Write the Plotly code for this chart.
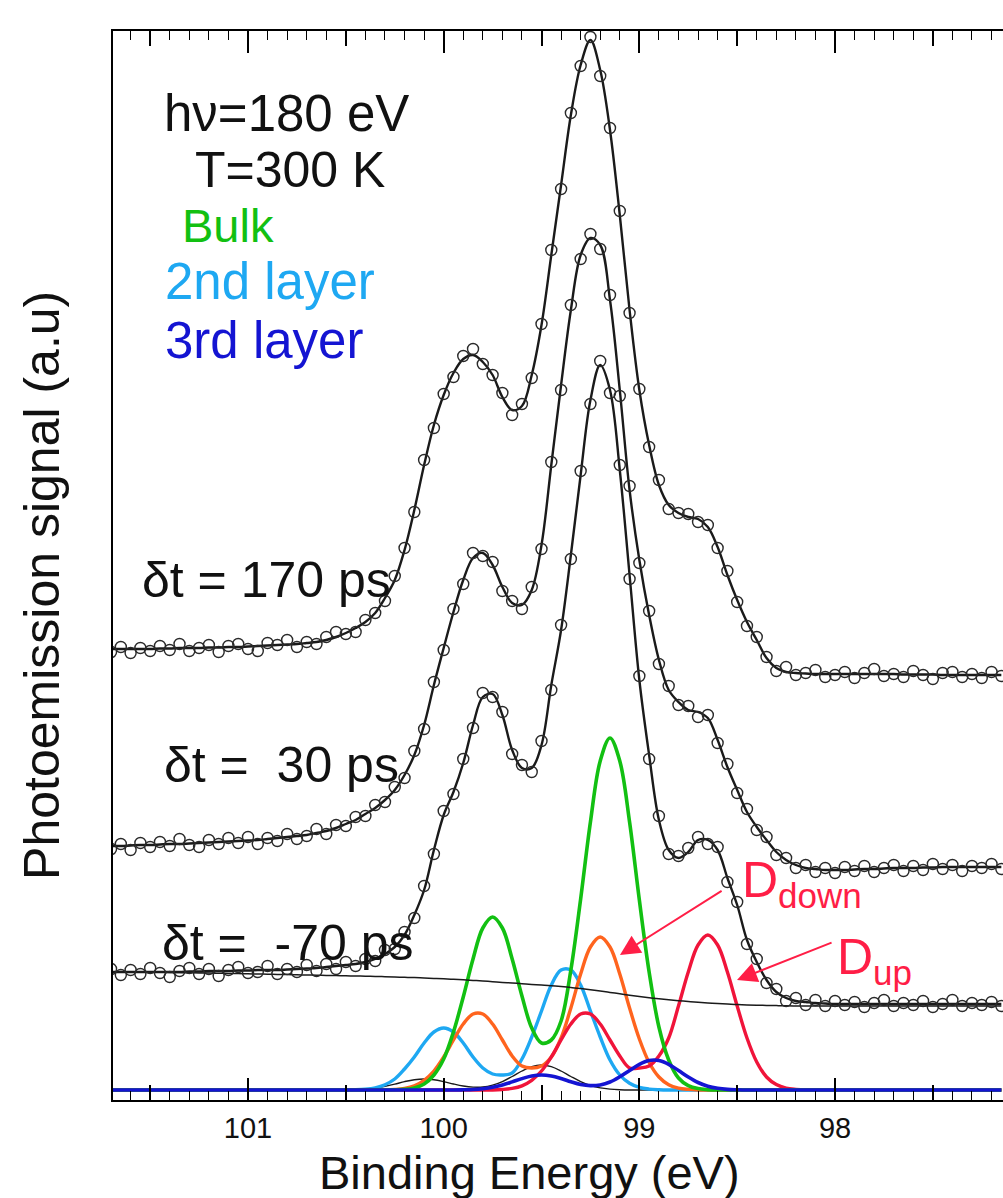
import plotly.graph_objects as go

# ---------------- data ----------------
energy = [101.70, 101.65, 101.60, 101.55, 101.50, 101.45, 101.40, 101.35, 101.30, 101.25,
          101.20, 101.15, 101.10, 101.05, 101.00, 100.95, 100.90, 100.85, 100.80, 100.75,
          100.70, 100.65, 100.60, 100.55, 100.50, 100.45, 100.40, 100.35, 100.30, 100.25,
          100.20, 100.15, 100.10, 100.05, 100.00, 99.95, 99.90, 99.85, 99.80, 99.75,
          99.70, 99.65, 99.60, 99.55, 99.50, 99.45, 99.40, 99.35, 99.30, 99.25,
          99.20, 99.15, 99.10, 99.05, 99.00, 98.95, 98.90, 98.85, 98.80, 98.75,
          98.70, 98.65, 98.60, 98.55, 98.50, 98.45, 98.40, 98.35, 98.30, 98.25,
          98.20, 98.15, 98.10, 98.05, 98.00, 97.95, 97.90, 97.85, 97.80, 97.75,
          97.70, 97.65, 97.60, 97.55, 97.50, 97.45, 97.40, 97.35, 97.30, 97.25,
          97.20, 97.15]

fit_170 = [441, 441, 441, 441, 441, 441.5, 441.5, 442, 442, 442,
           442.5, 442.5, 443, 443, 443.5, 444, 444.5, 445, 445.5, 446,
           447, 448, 450, 453, 457, 462, 468, 477, 492, 510,
           540, 580, 625, 665, 695, 717, 731, 735, 728, 715,
           693, 680, 684, 715, 765, 835, 905, 975, 1025, 1050,
           1020, 960, 875, 780, 700, 645, 605, 585, 577, 573,
           571, 563, 543, 515, 490, 468, 450, 432, 422, 418,
           417, 416.5, 416, 416, 416, 416, 416, 416, 416, 416,
           416, 415.5, 415.5, 415.5, 415.5, 415, 415, 415, 415, 415,
           415, 415]
data_170 = [438, 443, 437, 442, 439, 444, 440, 446, 439, 442,
            445, 438, 444, 446, 441, 439, 447, 445, 450, 443,
            448, 446, 453, 458, 456, 458, 470, 477, 489, 514,
            542, 578, 630, 662, 696, 713, 734, 741, 726, 715,
            697, 675, 686, 712, 766, 840, 901, 977, 1024, 1053,
            1014, 962, 879, 777, 701, 643, 610, 581, 577, 576,
            568, 565, 542, 519, 488, 464, 453, 433, 419, 423,
            415, 417, 420, 413, 415, 418, 412, 417, 421, 414,
            416, 413, 419, 415, 411, 417, 418, 413, 416, 412,
            418, 414]

fit_30 = [244, 244, 244.5, 245, 245, 245.5, 246, 246, 246.5, 247,
          247.5, 248, 248.5, 249, 249.5, 250, 251, 252, 253, 254,
          255, 257, 259, 262, 266, 270, 276, 282, 290, 300,
          315, 335, 365, 405, 442, 478, 510, 532, 537, 525,
          503, 487, 485, 500, 545, 625, 705, 780, 835, 852,
          845, 790, 700, 600, 530, 475, 430, 400, 388, 380,
          378, 372, 350, 323, 300, 278, 263, 250, 238, 230,
          225, 222, 221, 220, 220, 220, 220.5, 221, 221, 221.5,
          222, 222, 222, 222.5, 222.5, 223, 223, 223, 223, 223,
          223, 223]
data_30 = [241, 246, 240, 247, 243, 248, 244, 251, 245, 243,
           250, 246, 252, 247, 253, 246, 252, 249, 256, 251,
           254, 261, 256, 265, 264, 273, 274, 285, 288, 303,
           312, 339, 361, 408, 440, 481, 506, 537, 534, 528,
           499, 489, 481, 503, 541, 628, 700, 785, 831, 856,
           841, 795, 694, 604, 527, 479, 426, 404, 385, 384,
           373, 375, 347, 326, 297, 281, 260, 253, 235, 232,
           222, 225, 218, 222, 217, 223, 219, 224, 218, 222,
           225, 219, 224, 220, 226, 221, 225, 219, 224, 222,
           226, 221]

fit_m70 = [118, 118, 118, 118, 118, 118, 118, 118, 118.5, 118.5,
           119, 119, 119, 119.5, 119.5, 120, 120, 120, 120.5, 121,
           121.5, 122, 123, 124, 125, 126, 128, 131, 136, 143,
           155, 175, 200, 240, 275, 298, 327, 365, 393, 396,
           375, 340, 322, 322, 345, 405, 460, 535, 615, 690,
           725, 700, 620, 515, 410, 335, 270, 240, 232, 238,
           250, 250, 240, 212, 185, 150, 128, 110, 98, 92,
           89, 88, 87, 86.5, 86, 86, 86, 86, 86, 86,
           86, 86, 86, 86, 86, 86, 86, 86, 86, 86,
           86, 86]
data_m70 = [121, 115, 120, 116, 122, 117, 113, 119, 122, 116,
            121, 114, 120, 123, 117, 118, 124, 116, 121, 118,
            125, 119, 126, 121, 128, 124, 131, 129, 140, 141,
            158, 172, 204, 236, 279, 296, 331, 362, 397, 393,
            378, 336, 325, 318, 349, 400, 465, 531, 619, 686,
            729, 697, 625, 511, 414, 331, 274, 236, 234, 242,
            253, 246, 243, 208, 188, 146, 131, 107, 101, 89,
            92, 85, 90, 84, 89, 85, 88, 83, 87, 90,
            84, 87, 85, 89, 83, 86, 90, 84, 87, 85,
            88, 84]
background_m70 = [118, 118, 118, 118, 118, 117.8, 117.6, 117.4, 117.2, 117,
                  117, 116.8, 116.6, 116.4, 116.2, 116, 115.8, 115.6, 115.4, 115.2,
                  115, 114.8, 114.6, 114.4, 114.2, 114, 113.8, 113.6, 113.3, 113,
                  112.7, 112.4, 112, 111.6, 111.2, 110.7, 110.2, 109.6, 109, 108.3,
                  107.6, 107, 106.3, 105.6, 105, 104.2, 103.4, 102.5, 101.5, 100.3,
                  99, 97.6, 96.2, 94.8, 93.5, 92.3, 91.2, 90.2, 89.3, 88.5,
                  87.7, 87, 86.4, 85.9, 85.5, 85.1, 84.8, 84.6, 84.4, 84.2,
                  84.1, 84, 84, 84, 84, 84, 84, 84, 84, 84,
                  84, 84, 84, 84, 84, 84, 84, 84, 84, 84,
                  84, 84]

comp_bulk = [0, 0, 0, 0, 0, 0, 0, 0, 0, 0,
             0, 0, 0, 0, 0, 0, 0, 0, 0, 0,
             0, 0, 0, 0, 0, 0, 0, 0, 0, 0.2,
             0.7, 2.1, 6, 15, 31, 58, 93, 131, 162, 173,
             162, 131, 94, 62, 47, 50, 69, 120, 191, 268,
             329, 352, 329, 268, 190, 118, 63, 30, 12, 4.4,
             1.4, 0.4, 0, 0, 0, 0, 0, 0, 0, 0,
             0, 0, 0, 0, 0, 0, 0, 0, 0, 0,
             0, 0, 0, 0, 0, 0, 0, 0, 0, 0,
             0, 0]
comp_2nd = [0, 0, 0, 0, 0, 0, 0, 0, 0, 0,
            0, 0, 0, 0, 0, 0, 0, 0, 0, 0,
            0, 0, 0, 0, 0, 0.2, 0.8, 2.2, 5.3, 11,
            21, 33, 47, 58, 62, 58, 47, 33, 22, 16,
            15, 17, 31, 53, 79, 105, 120, 120, 105, 79,
            53, 30, 15, 6.7, 2.6, 0.9, 0.25, 0, 0, 0,
            0, 0, 0, 0, 0, 0, 0, 0, 0, 0,
            0, 0, 0, 0, 0, 0, 0, 0, 0, 0,
            0, 0, 0, 0, 0, 0, 0, 0, 0, 0,
            0, 0]
comp_ddown = [0, 0, 0, 0, 0, 0, 0, 0, 0, 0,
              0, 0, 0, 0, 0, 0, 0, 0, 0, 0,
              0, 0, 0, 0, 0, 0, 0, 0, 0, 0.5,
              1.6, 4.2, 9.7, 19, 33, 50, 66, 76, 76, 66,
              50, 34, 24, 22, 24, 33, 52, 82, 116, 143,
              153, 143, 116, 82, 51, 27.5, 13, 5.3, 1.9, 0.6,
              0, 0, 0, 0, 0, 0, 0, 0, 0, 0,
              0, 0, 0, 0, 0, 0, 0, 0, 0, 0,
              0, 0, 0, 0, 0, 0, 0, 0, 0, 0,
              0, 0]
comp_dup = [0, 0, 0, 0, 0, 0, 0, 0, 0, 0,
            0, 0, 0, 0, 0, 0, 0, 0, 0, 0,
            0, 0, 0, 0, 0, 0, 0, 0, 0, 0,
            0, 0, 0, 0, 0, 0, 0, 0, 0, 0,
            0.5, 1.6, 4.2, 9.7, 19, 33, 50, 66, 76, 76,
            66, 50, 34, 22, 22, 24, 34, 52, 84, 118,
            145, 155, 145, 118, 84, 52, 28, 13, 5.4, 1.9,
            0.6, 0, 0, 0, 0, 0, 0, 0, 0, 0,
            0, 0, 0, 0, 0, 0, 0, 0, 0, 0,
            0, 0]
comp_3rd = [0, 0, 0, 0, 0, 0, 0, 0, 0, 0,
            0, 0, 0, 0, 0, 0, 0, 0, 0, 0,
            0, 0, 0, 0, 0, 0, 0, 0, 0, 0,
            0, 0, 0, 0, 0, 0, 0.2, 0.5, 1.3, 2.7,
            5, 8.1, 11.4, 14, 15, 14, 11.5, 8.3, 5.6, 4.4,
            5.1, 8, 13.2, 19.5, 25.7, 29.5, 29.5, 25.7, 19.5, 13,
            7.5, 3.8, 1.7, 0.6, 0.2, 0, 0, 0, 0, 0,
            0, 0, 0, 0, 0, 0, 0, 0, 0, 0,
            0, 0, 0, 0, 0, 0, 0, 0, 0, 0,
            0, 0]
comp_surf = [0, 0, 0, 0, 0, 0, 0, 0, 0, 0,
             0, 0, 0, 0, 0, 0, 0, 0, 0, 0,
             0, 0, 0, 0, 0, 0.4, 0.9, 2, 3.7, 5.9,
             8.4, 10.3, 11, 10.3, 8.4, 6, 4, 2.9, 3.0, 4.9,
             8.4, 13.5, 19, 23.4, 25, 23.4, 19, 13.5, 8.4, 4.5,
             2.1, 0.9, 0.3, 0, 0, 0, 0, 0, 0, 0,
             0, 0, 0, 0, 0, 0, 0, 0, 0, 0,
             0, 0, 0, 0, 0, 0, 0, 0, 0, 0,
             0, 0, 0, 0, 0, 0, 0, 0, 0, 0,
             0, 0]

tick_vals = [101, 100, 99, 98]
tick_text = ["101", "100", "99", "98"]

# ---------------- styles ----------------
FONT = "Liberation Sans, Arial, Helvetica, sans-serif"
GREEN = "#12C012"
CYAN = "#1EA8F2"
BLUE = "#1414D2"
ORANGE = "#FF641E"
RED = "#F0143A"
LABEL_RED = "#FF1E46"
BLACK = "#1a1a1a"

fig = go.Figure()


def add_line(y, color, width):
    fig.add_trace(go.Scatter(x=energy, y=y, mode="lines",
                             line=dict(color=color, width=width, shape="spline", smoothing=1.0),
                             showlegend=False, hoverinfo="skip"))


# component curves
add_line(comp_surf, BLACK, 1.4)
add_line(comp_2nd, CYAN, 3.4)
add_line(comp_ddown, ORANGE, 3.4)
add_line(comp_dup, RED, 3.4)
add_line(comp_bulk, GREEN, 3.6)
add_line(comp_3rd, BLUE, 3.6)

# background
add_line(background_m70, BLACK, 1.5)

# spectra: fit lines and data circles
for fit, dat in ((fit_170, data_170), (fit_30, data_30), (fit_m70, data_m70)):
    add_line(fit, BLACK, 2.4)
    fig.add_trace(go.Scatter(x=energy, y=dat, mode="markers",
                             marker=dict(symbol="circle-open", size=11, color="#2a2a2a",
                                         line=dict(width=1.4, color="#2a2a2a")),
                             showlegend=False, hoverinfo="skip"))

# helper trace for the half-eV tick axis
fig.add_trace(go.Scatter(x=[99.0], y=[None], xaxis="x2", mode="markers",
                         showlegend=False, hoverinfo="skip"))

X_RANGE = [101.69, 97.1415]

fig.update_layout(
    width=1003, height=1198,
    margin=dict(l=113, r=0, t=31, b=98, autoexpand=False),
    paper_bgcolor="white", plot_bgcolor="white",
    showlegend=False,
    font=dict(family=FONT, color="black"),
    xaxis=dict(range=X_RANGE, tickmode="array", tickvals=tick_vals, ticktext=tick_text,
               ticks="inside", ticklen=22, tickwidth=1.6, tickcolor="black",
               showline=True, linewidth=2, linecolor="black", mirror="ticks",
               showgrid=False, zeroline=False, automargin=False,
               tickfont=dict(size=29, family=FONT, color="#111"),
               ticklabelstandoff=1,
               minor=dict(tickmode="linear", tick0=98, dtick=0.1, ticks="inside",
                          ticklen=9, tickwidth=1.4, tickcolor="black", showgrid=False)),
    xaxis2=dict(range=X_RANGE, overlaying="x", anchor="y", side="bottom",
                tickmode="linear", tick0=97.5, dtick=1, ticks="inside", ticklen=15,
                tickwidth=1.6, tickcolor="black", showticklabels=False,
                showline=True, linewidth=2, linecolor="black", mirror="ticks",
                showgrid=False, zeroline=False, automargin=False),
    yaxis=dict(range=[-10, 1059], showline=True, linewidth=2, linecolor="black",
               showticklabels=False, ticks="", showgrid=False, zeroline=False,
               automargin=False),
)

annotations = []
# axis titles
annotations.append(dict(text="Binding Energy (eV)", xref="paper", yref="paper",
                        x=0.4685, y=-0.0677, xanchor="center", yanchor="middle",
                        showarrow=False, font=dict(size=47, family=FONT, color="#111")))
annotations.append(dict(text="Photoemission signal (a.u)", xref="paper", yref="paper",
                        x=-0.0798, y=0.4818, xanchor="center", yanchor="middle",
                        textangle=-90, showarrow=False,
                        font=dict(size=50, family=FONT, color="#111")))

# legend-like texts
legend_items = [("hν=180 eV", 101.44, 977, "#111", 51),
                ("T=300 K", 101.281, 920, "#111", 50),
                ("Bulk", 101.348, 865, GREEN, 47),
                ("2nd layer", 101.434, 809, CYAN, 51),
                ("3rd layer", 101.434, 750, BLUE, 51)]
for txt, xx, yy, col, fs in legend_items:
    annotations.append(dict(text=txt, x=xx, y=yy, xref="x", yref="y", xanchor="left",
                            yanchor="middle", showarrow=False,
                            font=dict(size=fs, family=FONT, color=col)))

# delay labels
for txt, xx, yy in (("δt = 170 ps", 101.552, 510),
                    ("δt =\u00a0 30 ps", 101.44, 325),
                    ("δt =\u00a0 -70 ps", 101.45, 147)):
    annotations.append(dict(text=txt, x=xx, y=yy, xref="x", yref="y", xanchor="left",
                            yanchor="middle", showarrow=False,
                            font=dict(size=50, family=FONT, color="#111")))

# D labels
annotations.append(dict(text="D<sub>down</sub>", x=98.486, y=207, xref="x", yref="y",
                        xanchor="left", yanchor="middle", showarrow=False,
                        font=dict(size=50, family=FONT, color=LABEL_RED)))
annotations.append(dict(text="D<sub>up</sub>", x=98.0, y=130, xref="x", yref="y",
                        xanchor="left", yanchor="middle", showarrow=False,
                        font=dict(size=50, family=FONT, color=LABEL_RED)))
# arrows
annotations.append(dict(text="", x=99.099, y=135, ax=98.572, ay=200, xref="x", yref="y",
                        axref="x", ayref="y", showarrow=True, arrowhead=2, arrowsize=2,
                        arrowwidth=2, arrowcolor=LABEL_RED))
annotations.append(dict(text="", x=98.501, y=110, ax=98.010, ay=148, xref="x", yref="y",
                        axref="x", ayref="y", showarrow=True, arrowhead=2, arrowsize=2,
                        arrowwidth=2, arrowcolor=LABEL_RED))

fig.update_layout(annotations=annotations)

# remove the default page margin so the figure fills the browser window exactly
fig.write_html("out.html",
               config={"displayModeBar": False},
               post_script="document.body.style.margin='0px';"
                           "document.body.style.overflow='hidden';")
